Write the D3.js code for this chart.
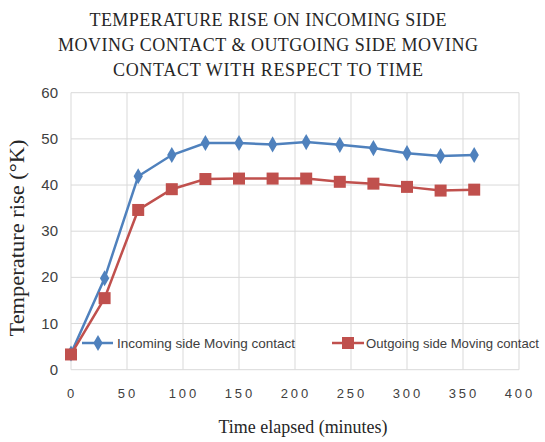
<!DOCTYPE html>
<html>
<head>
<meta charset="utf-8">
<script src="https://cdn.jsdelivr.net/npm/d3@7"></script>
<style>
body { margin: 0; background: #fff; }
</style>
</head>
<body>
<svg id="chart" width="545" height="442"></svg>
<script>
var times = [0, 30, 60, 90, 120, 150, 180, 210, 240, 270, 300, 330, 360];
var incoming = [3.5, 19.8, 41.9, 46.5, 49.1, 49.1, 48.8, 49.3, 48.7, 48.0, 46.9, 46.3, 46.5];
var outgoing = [3.3, 15.5, 34.6, 39.1, 41.3, 41.4, 41.4, 41.4, 40.7, 40.3, 39.6, 38.8, 39.0];
var xTicks = [0, 50, 100, 150, 200, 250, 300, 350, 400];
var yTicks = [0, 10, 20, 30, 40, 50, 60];
var titleLines = ['TEMPERATURE RISE ON INCOMING SIDE', 'MOVING CONTACT & OUTGOING SIDE MOVING', 'CONTACT WITH RESPECT TO TIME'];
var seriesNames = ['Incoming side Moving contact', 'Outgoing side Moving contact'];

var svg = d3.select('#chart');
var margin = {left: 71, right: 519, top: 92.7, bottom: 369.7};
var blue = '#4f81bd', red = '#c0504d';

var x = d3.scaleLinear().domain([0, 400]).range([margin.left, margin.right]);
var y = d3.scaleLinear().domain([0, 60]).range([margin.bottom, margin.top]);

// grid
svg.append('g').selectAll('line').data(xTicks).enter().append('line')
	.attr('x1', function(d) { return x(d); }).attr('x2', function(d) { return x(d); })
	.attr('y1', y(0)).attr('y2', y(60))
	.attr('stroke', '#d9d9d9').attr('stroke-width', 1);
svg.append('g').selectAll('line').data(yTicks).enter().append('line')
	.attr('y1', function(d) { return y(d); }).attr('y2', function(d) { return y(d); })
	.attr('x1', x(0)).attr('x2', x(400))
	.attr('stroke', '#d9d9d9').attr('stroke-width', 1);

// tick labels
svg.append('g').selectAll('text').data(yTicks).enter().append('text')
	.attr('x', 58).attr('y', function(d) { return y(d) + 5; })
	.attr('text-anchor', 'end')
	.style('font-family', 'Liberation Sans Narrow, Liberation Sans, sans-serif')
	.style('font-size', '15px').style('fill', '#404040')
	.text(function(d) { return d; });
svg.append('g').selectAll('text').data(xTicks).enter().append('text')
	.attr('x', function(d) { return x(d) + 1; }).attr('y', 398)
	.attr('text-anchor', 'middle')
	.style('font-family', 'Liberation Sans, sans-serif')
	.style('font-size', '13px').style('letter-spacing', '3px').style('fill', '#404040')
	.text(function(d) { return d; });

// lines
var line = d3.line()
	.x(function(d, i) { return x(times[i]); })
	.y(function(d) { return y(d); });

svg.append('path').datum(incoming).attr('d', line)
	.attr('fill', 'none').attr('stroke', blue).attr('stroke-width', 2.5);
svg.append('path').datum(outgoing).attr('d', line)
	.attr('fill', 'none').attr('stroke', red).attr('stroke-width', 2.5);

var diamond = d3.symbol().type(d3.symbolDiamond).size(75);
svg.append('g').selectAll('path').data(incoming).enter().append('path')
	.attr('d', diamond)
	.attr('transform', function(d, i) { return 'translate(' + x(times[i]) + ',' + y(d) + ')'; })
	.attr('fill', blue);
svg.append('g').selectAll('rect').data(outgoing).enter().append('rect')
	.attr('x', function(d, i) { return x(times[i]) - 6; })
	.attr('y', function(d) { return y(d) - 6; })
	.attr('width', 12).attr('height', 12)
	.attr('fill', red);

// legend
var legend = svg.append('g');
legend.append('line').attr('x1', 82).attr('x2', 113).attr('y1', 343).attr('y2', 343)
	.attr('stroke', blue).attr('stroke-width', 2.5);
legend.append('path').attr('d', diamond).attr('transform', 'translate(98,343)').attr('fill', blue);
legend.append('text').attr('x', 117).attr('y', 348)
	.attr('textLength', 178).attr('lengthAdjust', 'spacingAndGlyphs')
	.style('font-family', 'Liberation Sans Narrow, Liberation Sans, sans-serif')
	.style('font-size', '13px').style('fill', '#404040')
	.text(seriesNames[0]);
legend.append('line').attr('x1', 332).attr('x2', 364).attr('y1', 343).attr('y2', 343)
	.attr('stroke', red).attr('stroke-width', 2.5);
legend.append('rect').attr('x', 342).attr('y', 337).attr('width', 12).attr('height', 12).attr('fill', red);
legend.append('text').attr('x', 366).attr('y', 348)
	.attr('textLength', 173).attr('lengthAdjust', 'spacingAndGlyphs')
	.style('font-family', 'Liberation Sans Narrow, Liberation Sans, sans-serif')
	.style('font-size', '13px').style('fill', '#404040')
	.text(seriesNames[1]);

// title
var titleWidths = [357, 420, 310];
svg.append('g').selectAll('text').data(titleLines).enter().append('text')
	.attr('x', 268).attr('y', function(d, i) { return 26 + i * 25; })
	.attr('text-anchor', 'middle')
	.attr('textLength', function(d, i) { return titleWidths[i]; })
	.attr('lengthAdjust', 'spacing')
	.style('font-family', 'Liberation Serif, serif')
	.style('font-size', '18px').style('fill', '#262626')
	.text(function(d) { return d; });

// axis titles
svg.append('text')
	.attr('x', 303).attr('y', 433)
	.attr('text-anchor', 'middle')
	.attr('textLength', 169).attr('lengthAdjust', 'spacingAndGlyphs')
	.style('font-family', 'Liberation Serif, serif')
	.style('font-size', '19px').style('fill', '#262626')
	.text('Time elapsed (minutes)');
svg.append('text')
	.attr('transform', 'translate(24,238) rotate(-90)')
	.attr('text-anchor', 'middle')
	.attr('textLength', 197).attr('lengthAdjust', 'spacingAndGlyphs')
	.style('font-family', 'Liberation Serif, serif')
	.style('font-size', '20px').style('fill', '#262626')
	.text('Temperature rise (\u00B0K)');
</script>
</body>
</html>
